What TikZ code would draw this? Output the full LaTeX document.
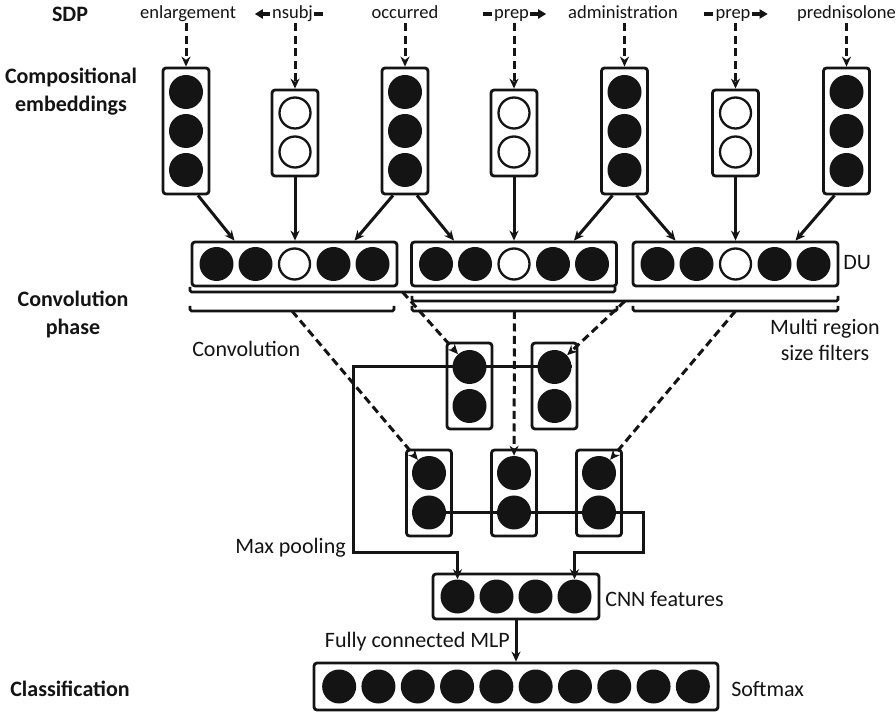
\documentclass[tikz,border=0pt]{standalone}
\usepackage{fontspec}
\setmainfont{Carlito}
\usetikzlibrary{arrows.meta,calc}
\newdimen\pxu
\pxu=0.75pt
\definecolor{ink}{HTML}{141414}
\begin{document}
\begin{tikzpicture}[x=0.75pt,y=-0.75pt,
  cell/.style={rectangle, rounded corners=3\pxu, draw=ink, line width=2.8\pxu, fill=white, inner sep=0pt},
  full/.style={circle, fill=ink, minimum size=34\pxu, inner sep=0pt},
  hollow/.style={circle, draw=ink, line width=2.3\pxu, fill=white, minimum size=31\pxu, inner sep=0pt},
  conn/.style={draw=ink, line width=3\pxu, arrows={-Stealth[length=7.5pt,width=6.75pt]}},
  dconn/.style={conn, dash pattern=on 8\pxu off 4.5\pxu},
  mini/.style={draw=ink, line width=3.8\pxu},
  tipL/.style={arrows={Triangle[length=6pt,width=6.75pt]-}},
  tipR/.style={arrows={-Triangle[length=6pt,width=6.75pt]}},
  brk/.style={draw=ink, line width=2.6\pxu, rounded corners=1.5\pxu},
  lab/.style={font=\fontsize{16.5}{19.5}\selectfont, text=ink, inner sep=0pt},
  word/.style={font=\fontsize{13.9}{17}\selectfont, text=ink, inner sep=0pt, text height=14\pxu, text depth=4\pxu},
  head/.style={font=\bfseries\fontsize{16.5}{21}\selectfont, text=ink, inner sep=0pt}]

\fill[white] (0,0) rectangle (896,712);
\useasboundingbox (0,0) rectangle (896,712);

% row headings (base anchor sits on the last line)
\node[head, anchor=base] (hsdp) at (70,22) {SDP};
\node[head, align=center, anchor=base] (hemb) at (71,112) {Compositional\\embeddings};
\node[head, align=center, anchor=base] (hconv) at (73,335) {Convolution\\phase};
\node[head, anchor=base] (hcls) at (70,696) {Classification};

% shortest dependency path tokens
\node[word, anchor=base] (t1) at (188,19) {enlargement};
\node[word, anchor=base] (t2) at (292.5,19) {nsubj};
\node[word, anchor=base] (t3) at (405,19) {occurred};
\node[word, anchor=base] (t4) at (511.5,19) {prep};
\node[word, anchor=base] (t5) at (623,19) {administration};
\node[word, anchor=base] (t6) at (733,19) {prep};
\node[word, anchor=base] (t7) at (846.5,19) {prednisolone};

% direction marks around the dependency labels
\draw[mini, tipL] ($(t2.west)+(-17,0)$) -- ($(t2.west)+(-2,0)$);
\draw[mini] ($(t2.east)+(1,0)$) -- ($(t2.east)+(10,0)$);
\draw[mini] ($(t4.west)+(-11,0)$) -- ($(t4.west)+(-2,0)$);
\draw[mini, tipR] ($(t4.east)+(1,0)$) -- ($(t4.east)+(17,0)$);
\draw[mini] ($(t6.west)+(-11,0)$) -- ($(t6.west)+(-2,0)$);
\draw[mini, tipR] ($(t6.east)+(1,0)$) -- ($(t6.east)+(17,0)$);

% word embeddings (three units)
\foreach \n/\x in {1/186, 3/405, 5/624.5, 7/846.5} {
  \node[cell, minimum width=46\pxu, minimum height=126\pxu] (w\n) at (\x,131) {};
  \foreach \k/\y in {1/92, 2/131, 3/170}
    \node[full] (w\n c\k) at (\x,\y) {};
}
% dependency embeddings (two units)
\foreach \n/\x in {2/295, 4/514, 6/735.5} {
  \node[cell, minimum width=46\pxu, minimum height=86\pxu] (w\n) at (\x,133) {};
  \foreach \k/\y in {1/113, 2/152}
    \node[hollow] (w\n c\k) at (\x,\y) {};
}

% tokens to embeddings
\foreach \n in {1,...,7}
  \draw[dconn] (t\n.south -| w\n.north) -- (w\n.north);

% dependency units
\foreach \n/\x in {1/294.5, 2/514, 3/735.5} {
  \node[cell, minimum width=205\pxu, minimum height=44\pxu] (du\n) at (\x,264) {};
  \node[full]   (du\n c1) at ($(du\n.center)+(-78,0)$) {};
  \node[full]   (du\n c2) at ($(du\n.center)+(-39,0)$) {};
  \node[hollow] (du\n c3) at (du\n.center) {};
  \node[full]   (du\n c4) at ($(du\n.center)+(39,0)$) {};
  \node[full]   (du\n c5) at ($(du\n.center)+(78,0)$) {};
}
\node[lab, anchor=base west] (ldu) at (843,270) {DU};

% embeddings to dependency units
\draw[conn] ($(w1.south)+(12,0)$) -- ($(du1.north)+(-60,0)$);
\draw[conn] (w2.south) -- (w2.south |- du1.north);
\draw[conn] ($(w3.south)+(-12,0)$) -- ($(du1.north)+(60,0)$);
\draw[conn] ($(w3.south)+(12,0)$) -- ($(du2.north)+(-60,0)$);
\draw[conn] (w4.south) -- (w4.south |- du2.north);
\draw[conn] ($(w5.south)+(-12,0)$) -- ($(du2.north)+(60,0)$);
\draw[conn] ($(w5.south)+(12,0)$) -- ($(du3.north)+(-60,0)$);
\draw[conn] (w6.south) -- (w6.south |- du3.north);
\draw[conn] ($(w7.south)+(-12,0)$) -- ($(du3.north)+(60,0)$);

% filter regions
\draw[brk] (190,287) -- (190,292) -- coordinate (bA) (615,292) -- (615,287);
\draw[brk] (412,296) -- (412,301) -- coordinate (bB) (838,301) -- (838,296);
\draw[brk] (190,306) -- (190,311) -- coordinate (bC1) (394,311) -- (394,306);
\draw[brk] (412,306) -- (412,311) -- coordinate (bC2) (617,311) -- (617,306);
\draw[brk] (633,306) -- (633,311) -- coordinate (bC3) (838,311) -- (838,306);

\node[lab, anchor=base west] (lconv) at (192,357) {Convolution};
\node[lab, align=center, anchor=base] (lmrs) at (825,361) {Multi region\\size filters};

% feature maps
\foreach \n/\x in {1/469.5, 2/554.5} {
  \node[cell, minimum width=45\pxu, minimum height=86\pxu] (u\n) at (\x,386) {};
  \node[full] (u\n a) at (\x,367) {};
  \node[full] (u\n b) at (\x,406) {};
}
\foreach \n/\x in {1/429, 2/514, 3/599} {
  \node[cell, minimum width=45\pxu, minimum height=86\pxu] (l\n) at (\x,493) {};
  \node[full] (l\n a) at (\x,473) {};
  \node[full] (l\n b) at (\x,512.5) {};
}

% convolution
\draw[dconn] (bA) -- (u1a);
\draw[dconn] (bB) -- (u2a);
\draw[dconn] (bC1) -- (l1a);
\draw[dconn] (bC2) -- (l2a);
\draw[dconn] (bC3) -- (l3a);

% CNN features
\node[cell, minimum width=166\pxu, minimum height=45\pxu] (f) at (516,596.5) {};
\foreach \k/\dx in {1/-58.5, 2/-19.5, 3/19.5, 4/58.5}
  \node[full] (f\k) at ($(f.center)+(\dx,0)$) {};
\node[lab, anchor=base west] (lcnn) at (605,606) {CNN features};

% max pooling
\coordinate (poolL) at (353,553);
\coordinate (poolR) at (643,553);
\draw[conn] (u2a.east) -- (u2a.east -| poolL) -- (poolL) -| (f1.north);
\draw[conn] (l1b.west) -- (l1b.west -| poolR) -- (poolR) -| (f4.north);
\node[lab, anchor=base east] (lmp) at (346,553) {Max pooling};

% softmax layer
\node[cell, minimum width=404\pxu, minimum height=47\pxu] (s) at (516,686.5) {};
\foreach \k in {0,...,9}
  \node[full] (s\k) at ($(s.center)+({(\k-4.5)*39.3},0)$) {};
\node[lab, anchor=base west] (lsm) at (731,696) {Softmax};

\draw[conn] (f.south) -- (s.north);
\node[lab, anchor=base east] (lmlp) at (510,647) {Fully connected MLP};

\end{tikzpicture}
\end{document}
